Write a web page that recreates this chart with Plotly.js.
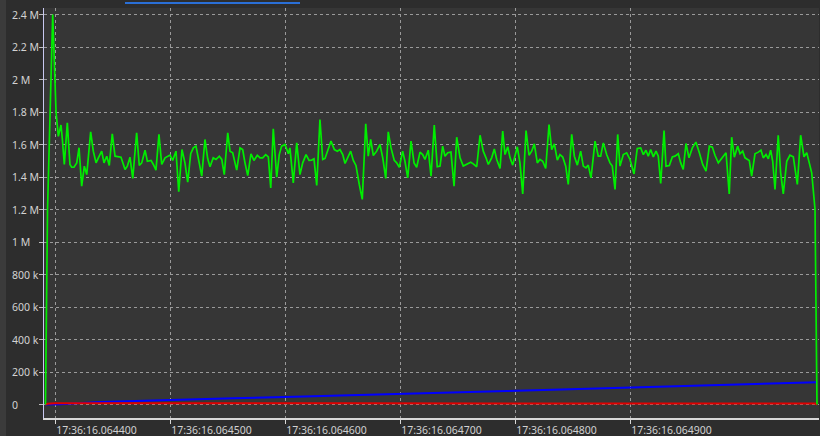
<!DOCTYPE html>
<html>
<head>
<meta charset="utf-8">
<script src="https://cdn.plot.ly/plotly-3.0.1.min.js"></script>
<style>html,body{margin:0;padding:0;background:#2d2d2d;}#chart{width:820px;height:436px;}</style>
</head>
<body>
<div id="chart"></div>
<script>
// time axis: microseconds after 17:36:16.064000
const greenTime = [391.7,393.5,398.0,400.9,402.9,405.2,406.3,408.1,410.7,413.0,414.5,416.5,418.9,420.9,423.2,425.5,427.6,431.0,433.3,435.7,437.7,440.6,442.6,445.0,447.2,449.8,452.2,454.5,457.4,460.9,462.9,465.2,467.6,471.0,473.3,475.4,478.3,480.3,483.5,485.5,487.8,490.4,492.8,495.7,500.0,502.3,505.2,507.6,510.4,513.0,515.4,518.0,520.3,522.6,525.2,527.6,530.4,532.8,534.8,537.6,540.0,542.9,545.0,547.2,550.2,552.2,554.5,558.0,560.9,563.2,565.2,567.6,570.4,573.0,575.9,578.3,580.6,583.2,585.5,587.6,589.8,592.8,595.0,597.1,600.0,602.9,604.3,607.2,610.2,613.0,615.4,618.3,620.9,623.2,625.2,627.6,630.4,632.8,634.8,637.7,640.0,642.9,645.5,647.8,650.2,652.2,654.5,657.1,659.4,661.7,664.6,667.2,670.2,672.4,674.5,676.8,679.7,682.6,685.0,687.6,689.8,692.2,695.0,697.1,699.4,702.3,704.3,706.7,709.6,712.2,714.5,717.4,719.7,721.7,724.6,727.0,729.8,732.4,734.8,737.1,739.1,741.5,744.3,747.0,749.3,752.2,755.0,758.0,761.5,763.7,766.7,769.6,772.4,774.8,776.8,779.7,782.0,784.1,787.0,789.3,791.3,793.7,795.7,798.0,800.0,802.0,804.3,806.7,809.6,812.2,814.5,816.8,819.4,821.7,824.1,826.7,829.6,831.9,834.2,836.8,839.1,841.5,844.1,846.3,849.3,851.6,854.2,857.1,859.4,861.7,863.7,866.1,869.6,872.4,874.5,876.8,879.7,882.6,884.6,887.0,889.3,891.3,894.2,897.1,900.0,903.5,906.3,909.3,911.6,913.9,915.9,918.0,920.3,922.6,924.6,926.7,929.6,931.3,934.2,936.8,939.1,942.0,944.1,946.3,948.7,951.3,954.2,957.3,960.3,963.2,966.1,969.0,971.6,973.9,976.8,979.7,983.5,986.3,988.4,990.7,993.6,995.7,998.0,1000.0,1002.0,1003.7,1005.8,1008.7,1011.6,1013.9,1015.9,1018.3,1020.3,1022.3,1024.1,1026.1,1028.9,1031.0,1033.3,1036.3,1039.1,1042.0,1045.5,1048.4,1051.3,1053.7,1055.9,1058.0,1060.9,1062.6];
const greenValues = [0,1200000,2400000,1800000,1650000,1720000,1640000,1477000,1733000,1477000,1460000,1460000,1487000,1580000,1344000,1467000,1415000,1678000,1559000,1487000,1518000,1559000,1487000,1528000,1471000,1666000,1528000,1524000,1522000,1446000,1467000,1522000,1391000,1672000,1471000,1487000,1565000,1497000,1502000,1477000,1442000,1662000,1477000,1518000,1535000,1502000,1559000,1309000,1569000,1487000,1368000,1543000,1579000,1590000,1487000,1405000,1631000,1512000,1463000,1518000,1508000,1528000,1508000,1415000,1672000,1559000,1549000,1442000,1579000,1569000,1487000,1409000,1543000,1502000,1534000,1518000,1518000,1538000,1524000,1333000,1696000,1399000,1538000,1590000,1600000,1543000,1579000,1364000,1610000,1415000,1487000,1538000,1502000,1504000,1512000,1348000,1754000,1508000,1514000,1579000,1621000,1569000,1559000,1569000,1538000,1483000,1518000,1559000,1502000,1471000,1354000,1262000,1727000,1528000,1631000,1532000,1559000,1600000,1518000,1391000,1678000,1579000,1502000,1487000,1460000,1559000,1497000,1395000,1621000,1487000,1460000,1553000,1538000,1508000,1565000,1405000,1719000,1463000,1467000,1590000,1528000,1549000,1553000,1344000,1645000,1518000,1467000,1477000,1491000,1481000,1463000,1657000,1559000,1518000,1477000,1518000,1573000,1508000,1452000,1682000,1538000,1586000,1518000,1473000,1528000,1586000,1487000,1296000,1686000,1534000,1559000,1604000,1487000,1508000,1497000,1452000,1723000,1569000,1604000,1504000,1538000,1523000,1467000,1354000,1662000,1528000,1473000,1559000,1467000,1456000,1473000,1395000,1621000,1528000,1528000,1610000,1538000,1487000,1467000,1323000,1662000,1467000,1538000,1549000,1508000,1419000,1575000,1579000,1538000,1565000,1528000,1569000,1524000,1559000,1528000,1360000,1686000,1467000,1471000,1524000,1528000,1543000,1487000,1446000,1606000,1518000,1579000,1615000,1549000,1477000,1436000,1590000,1584000,1534000,1487000,1512000,1549000,1296000,1645000,1522000,1590000,1543000,1559000,1518000,1512000,1502000,1405000,1543000,1553000,1565000,1518000,1538000,1512000,1565000,1497000,1323000,1657000,1426000,1296000,1497000,1534000,1524000,1354000,1657000,1524000,1549000,1487000,1426000,1200000,0];

const blueTime = [391.7,404.3,439.1,470.0,500.0,554.8,600.0,650.0,700.0,750.0,793.0,840.0,888.7,940.0,984.3,1020.0,1046.1,1062.6];
const blueValues = [0,2000,15000,22000,28000,38000,46000,55000,63000,73000,83000,93000,103000,112000,120000,128000,135000,137000];

const redTime = [391.7,393.5,400.0,450.0,500.0,550.0,600.0,650.0,700.0,750.0,800.0,850.0,900.0,950.0,1000.0,1050.0,1060.9,1062.6];
const redValues = [0,5000,7000,6000,7000,6000,7000,7000,7000,7000,7000,7000,7000,7000,7000,7000,6000,0];

const xTickVals = [400,500,600,700,800,900];
const xTickText = ['17:36:16.064400','17:36:16.064500','17:36:16.064600','17:36:16.064700','17:36:16.064800','17:36:16.064900'];
const yTickVals = [0,200000,400000,600000,800000,1000000,1200000,1400000,1600000,1800000,2000000,2200000,2400000];
const yTickText = ['0','200 k','400 k','600 k','800 k','1 M','1.2 M','1.4 M','1.6 M','1.8 M','2 M','2.2 M','2.4 M'];

const W = 820, H = 436, ML = 44, MR = 1, MT = 8, MB = 18;
const plotW = W - ML - MR, plotH = H - MT - MB;
const labelColor = '#d2d2d2';
const fontFam = 'Noto Sans, DejaVu Sans, sans-serif';

const traces = [
  {x: blueTime, y: blueValues, type: 'scatter', mode: 'lines', line: {color: '#0000ff', width: 2}, hoverinfo: 'skip'},
  {x: redTime, y: redValues, type: 'scatter', mode: 'lines', line: {color: '#e00000', width: 2}, hoverinfo: 'skip'},
  {x: greenTime, y: greenValues, type: 'scatter', mode: 'lines', line: {color: '#00ee00', width: 1.7}, hoverinfo: 'skip'}
];

const annotations = yTickVals.map((v, i) => ({
  xref: 'paper', yref: 'y', x: (10 - ML) / plotW, y: v, xanchor: 'left', yanchor: 'middle',
  text: yTickText[i], showarrow: false, font: {family: fontFam, size: 10.5, color: labelColor}
}));

const layout = {
  width: W, height: H,
  margin: {l: ML, r: MR, t: MT, b: MB, pad: 0},
  paper_bgcolor: '#2d2d2d',
  plot_bgcolor: '#363636',
  showlegend: false,
  font: {family: fontFam, size: 10.5, color: labelColor},
  xaxis: {
    range: [390.43, 1064.35], tickmode: 'array', tickvals: xTickVals, ticktext: xTickText,
    showgrid: true, gridcolor: '#9a9a9a', griddash: '3px,3px', gridwidth: 1,
    zeroline: false, showline: true, linecolor: '#d8d8d8', linewidth: 1.5,
    ticks: 'outside', ticklen: 4, tickcolor: '#d8d8d8', tickwidth: 1,
    ticklabelposition: 'outside right', ticklabelstandoff: 2,
    tickfont: {family: fontFam, size: 10.5, color: labelColor}
  },
  yaxis: {
    range: [-83000, 2440000], tickmode: 'array', tickvals: yTickVals,
    showticklabels: false,
    showgrid: true, gridcolor: '#9a9a9a', griddash: '3px,3px', gridwidth: 1,
    zeroline: false, showline: true, linecolor: '#c8c8f0', linewidth: 1.5,
    ticks: 'outside', ticklen: 4, tickcolor: '#bdbdbd', tickwidth: 1
  },
  annotations: annotations,
  shapes: [
    {type: 'line', xref: 'paper', yref: 'paper', x0: (125 - ML) / plotW, x1: (300 - ML) / plotW,
     y0: 1 + (MT - 3) / plotH, y1: 1 + (MT - 3) / plotH, line: {color: '#2a6fd6', width: 2}},
    {type: 'rect', xref: 'paper', yref: 'paper', x0: -ML / plotW, x1: (6 - ML) / plotW,
     y0: -MB / plotH, y1: 1 + MT / plotH, line: {width: 0}, fillcolor: '#3b3b3b', layer: 'below'}
  ]
};

Plotly.newPlot('chart', traces, layout, {staticPlot: true, displayModeBar: false});
</script>
</body>
</html>
